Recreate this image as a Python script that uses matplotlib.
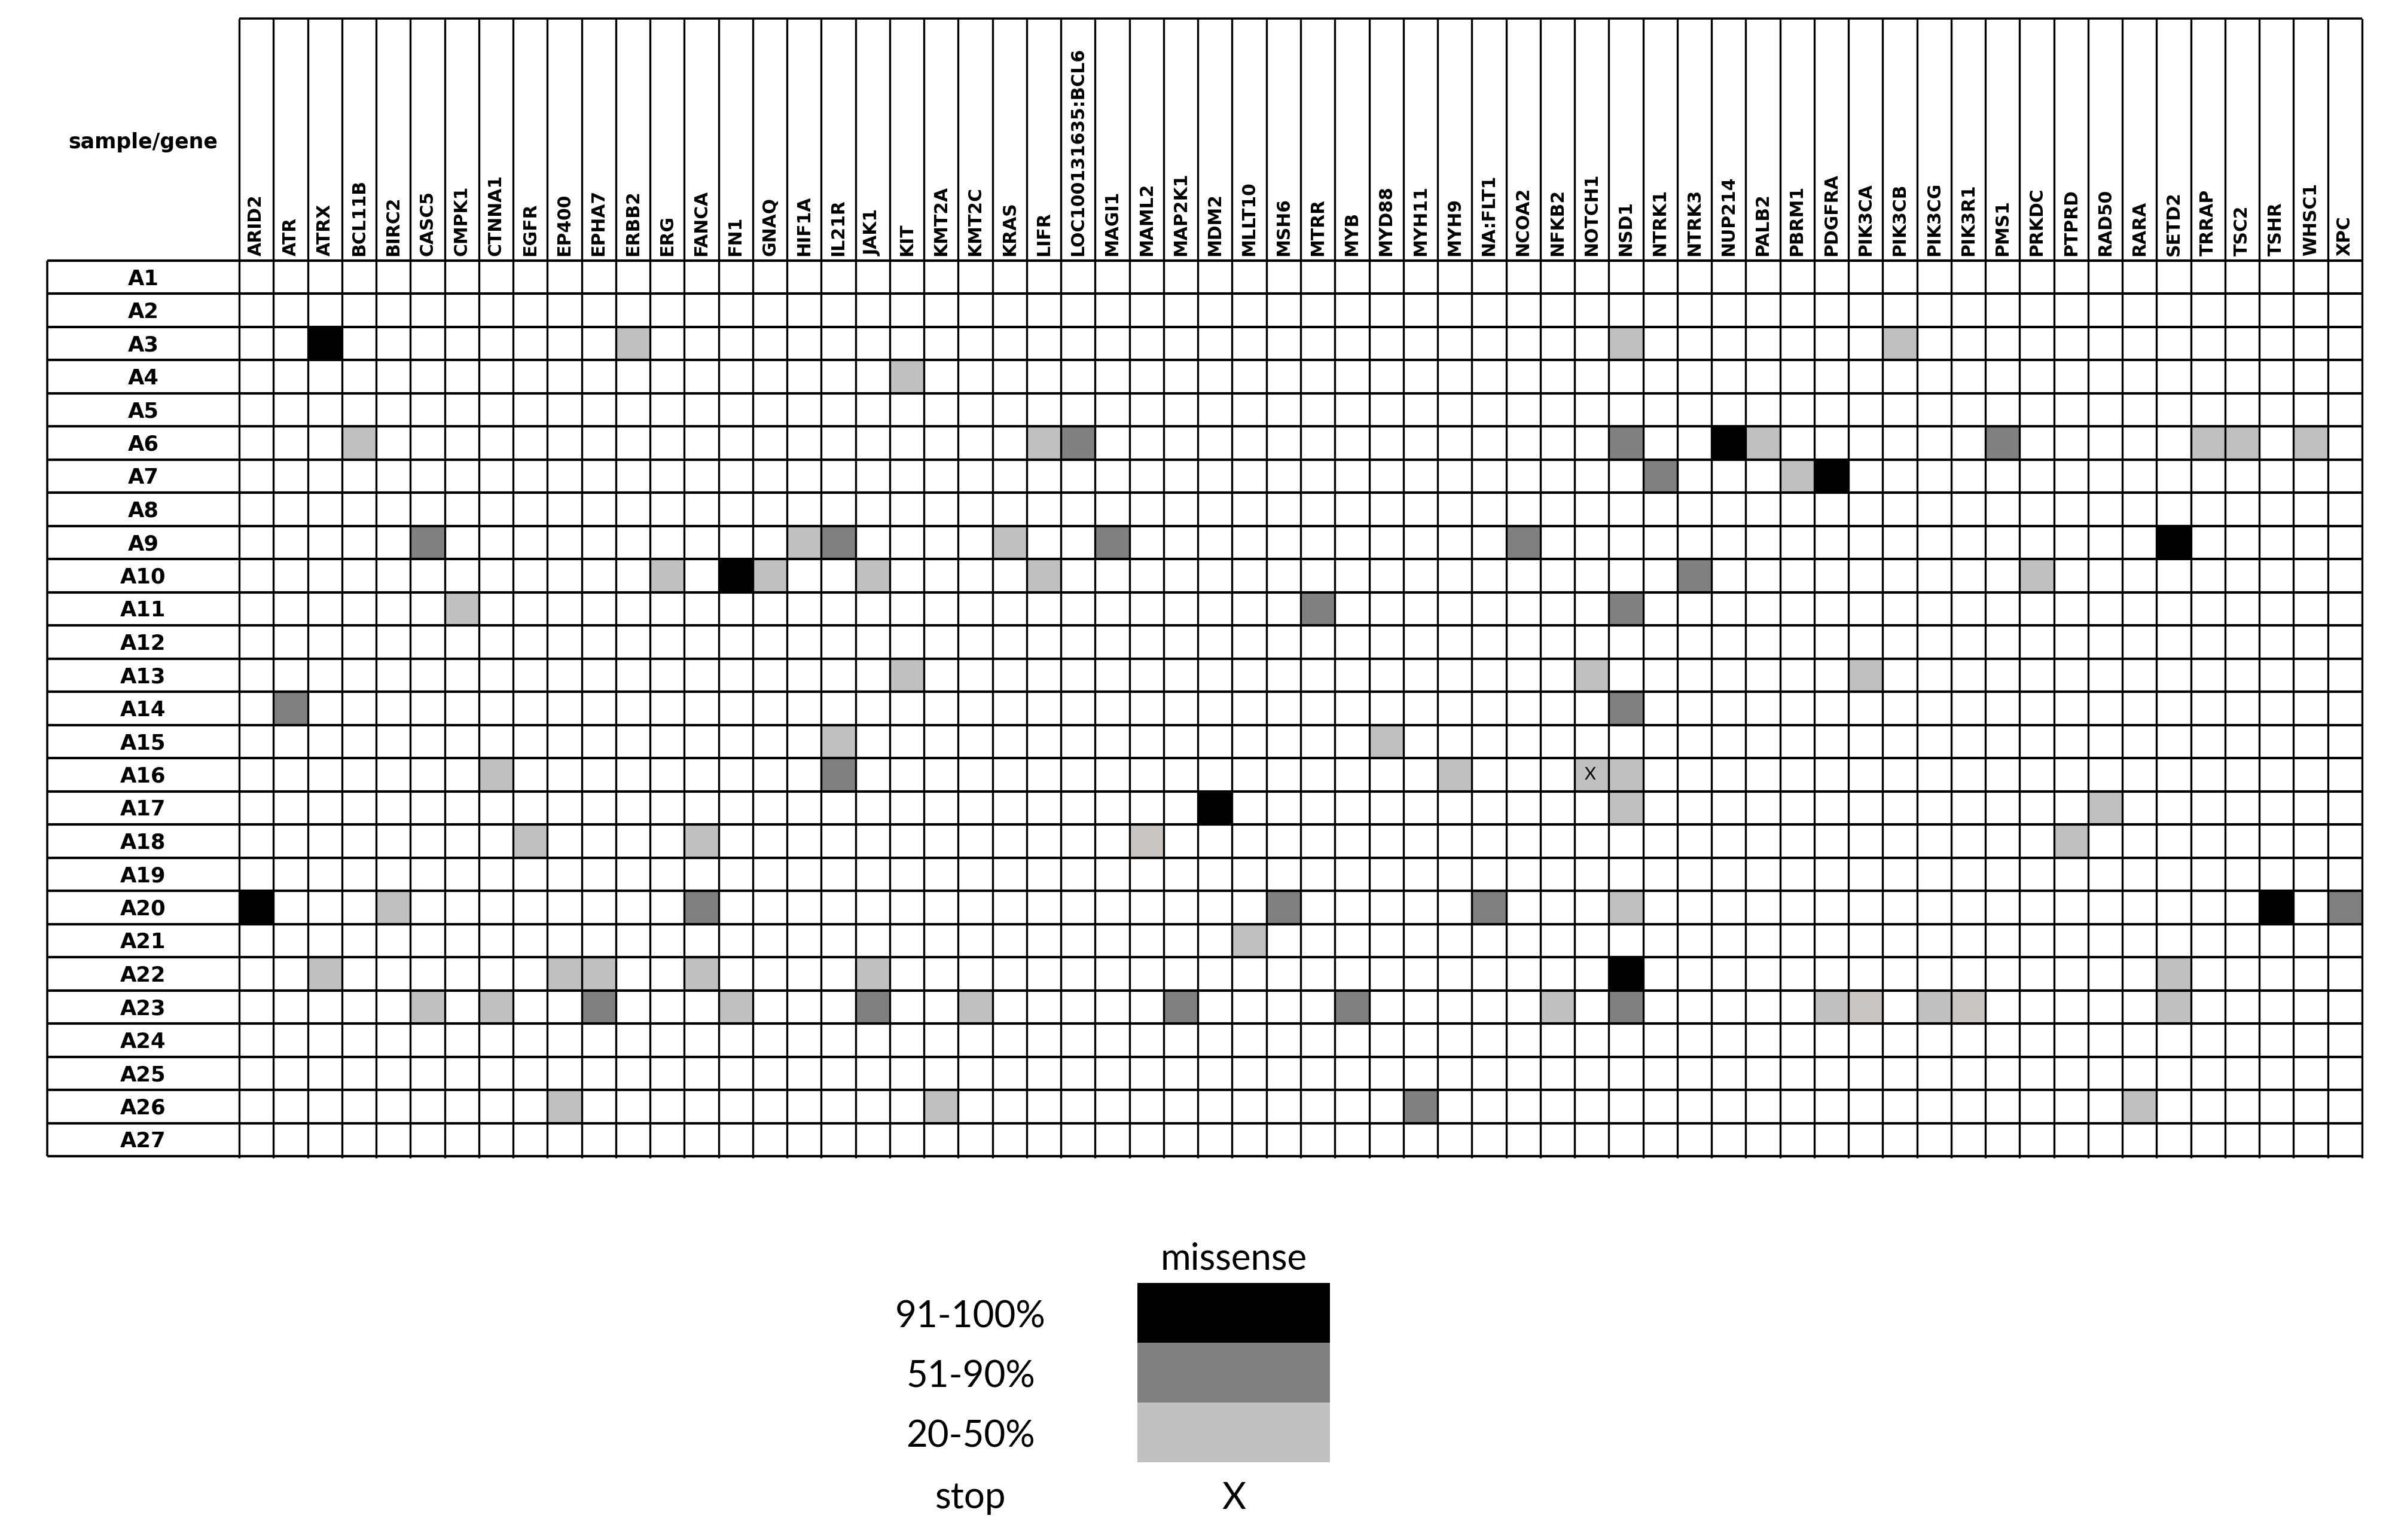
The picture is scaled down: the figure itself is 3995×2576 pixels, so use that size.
import numpy as np
import matplotlib.pyplot as plt
from matplotlib.colors import ListedColormap, BoundaryNorm

genes = ['ARID2', 'ATR', 'ATRX', 'BCL11B', 'BIRC2', 'CASC5', 'CMPK1', 'CTNNA1',
         'EGFR', 'EP400', 'EPHA7', 'ERBB2', 'ERG', 'FANCA', 'FN1', 'GNAQ', 'HIF1A',
         'IL21R', 'JAK1', 'KIT', 'KMT2A', 'KMT2C', 'KRAS', 'LIFR', 'LOC100131635:BCL6',
         'MAGI1', 'MAML2', 'MAP2K1', 'MDM2', 'MLLT10', 'MSH6', 'MTRR', 'MYB', 'MYD88',
         'MYH11', 'MYH9', 'NA:FLT1', 'NCOA2', 'NFKB2', 'NOTCH1', 'NSD1', 'NTRK1',
         'NTRK3', 'NUP214', 'PALB2', 'PBRM1', 'PDGFRA', 'PIK3CA', 'PIK3CB', 'PIK3CG',
         'PIK3R1', 'PMS1', 'PRKDC', 'PTPRD', 'RAD50', 'RARA', 'SETD2', 'TRRAP', 'TSC2',
         'TSHR', 'WHSC1', 'XPC']
samples = ['A%d' % i for i in range(1, 28)]

# missense calls by allele fraction band
vaf_91_100 = {
    'A3': ['ATRX'], 'A6': ['NUP214'], 'A7': ['PDGFRA'], 'A9': ['SETD2'],
    'A10': ['FN1'], 'A17': ['MDM2'], 'A20': ['ARID2', 'TSHR'], 'A22': ['NSD1'],
}
vaf_51_90 = {
    'A6': ['LOC100131635:BCL6', 'NSD1', 'PMS1'], 'A7': ['NTRK1'],
    'A9': ['CASC5', 'IL21R', 'MAGI1', 'NCOA2'], 'A10': ['NTRK3'],
    'A11': ['MTRR', 'NSD1'], 'A14': ['ATR', 'NSD1'], 'A16': ['IL21R'],
    'A20': ['FANCA', 'MSH6', 'NA:FLT1', 'XPC'],
    'A23': ['EPHA7', 'JAK1', 'MAP2K1', 'MYB', 'NSD1'], 'A26': ['MYH11'],
}
vaf_20_50 = {
    'A3': ['ERBB2', 'NSD1', 'PIK3CB'], 'A4': ['KIT'],
    'A6': ['BCL11B', 'LIFR', 'PALB2', 'TRRAP', 'TSC2', 'WHSC1'], 'A7': ['PBRM1'],
    'A9': ['HIF1A', 'KRAS'], 'A10': ['ERG', 'GNAQ', 'JAK1', 'LIFR', 'PRKDC'],
    'A11': ['CMPK1'], 'A13': ['KIT', 'NOTCH1', 'PIK3CA'], 'A15': ['IL21R', 'MYD88'],
    'A16': ['CTNNA1', 'MYH9', 'NOTCH1', 'NSD1'], 'A17': ['NSD1', 'RAD50'],
    'A18': ['EGFR', 'FANCA', 'PTPRD'], 'A20': ['BIRC2', 'NSD1'], 'A21': ['MLLT10'],
    'A22': ['ATRX', 'EP400', 'EPHA7', 'FANCA', 'JAK1', 'SETD2'],
    'A23': ['CASC5', 'CTNNA1', 'FN1', 'KMT2C', 'NFKB2', 'PDGFRA', 'PIK3CG', 'SETD2'],
    'A26': ['EP400', 'KMT2A', 'RARA'],
}
# same band, cells that are a slightly warmer grey in the original
vaf_20_50_warm = {'A18': ['MAML2'], 'A23': ['PIK3CA', 'PIK3R1']}
stop_calls = {'A16': ['NOTCH1']}

legend_labels = ['91-100%', '51-90%', '20-50%']

mat = np.zeros((len(samples), len(genes)))
for level, calls in [(1, vaf_20_50), (4, vaf_20_50_warm), (2, vaf_51_90), (3, vaf_91_100)]:
    for s, gl in calls.items():
        for g in gl:
            mat[samples.index(s), genes.index(g)] = level

colors = ['white', '#c0c0c0', '#808080', '#000000', '#cac5c0']
cmap = ListedColormap(colors)
norm = BoundaryNorm(np.arange(-0.5, len(colors)), cmap.N)

W, H = 3995, 2576
fig = plt.figure(figsize=(W / 100, H / 100), dpi=100)
ax = fig.add_axes([400 / W, 1 - 1934 / H, 3550 / W, 1498 / H])
ax.pcolormesh(np.arange(len(genes) + 1), np.arange(len(samples) + 1), mat,
              cmap=cmap, norm=norm)
ax.set_xlim(0, len(genes))
ax.set_ylim(len(samples), 0)
ax.axis('off')

head = 405 / 55.48   # header height in rows
lab = 321 / 57.26    # label column width in columns
ng, ns = len(genes), len(samples)

ax.vlines(np.arange(ng + 1), -head, ns + 0.05, color='black', lw=2.4, clip_on=False)
ax.vlines(-lab, 0, ns, color='black', lw=2.6, clip_on=False)
ax.hlines(np.arange(ns + 1), -lab, ng, color='black', lw=3.0, clip_on=False)
ax.hlines(-head, 0, ng, color='black', lw=2.6, clip_on=False)

for i, g in enumerate(genes):
    ax.text(i + 0.5, -0.15, g, rotation=90, ha='center', va='bottom',
            fontsize=21.5, fontweight='bold', family='DejaVu Sans', clip_on=False)
for j, s in enumerate(samples):
    ax.text(-lab / 2, j + 0.55, s, ha='center', va='center',
            fontsize=25.5, fontweight='bold', family='DejaVu Sans', clip_on=False)
ax.text(-lab / 2, -3.57, 'sample/gene', ha='center', va='center',
        fontsize=25, fontweight='bold', family='DejaVu Sans', clip_on=False)

for s, gl in stop_calls.items():
    for g in gl:
        ax.text(genes.index(g) + 0.45, samples.index(s) + 0.5, 'X', ha='center',
                va='center', fontsize=21, family='Lato')

# legend
leg = fig.add_axes([1902 / W, 1 - 2446 / H, 322 / W, 300 / H])
leg.barh(range(3), 1, height=1, left=0, color=[colors[3], colors[2], colors[1]])
leg.set_xlim(0, 1)
leg.set_ylim(2.5, -0.5)
leg.axis('off')
tr = leg.get_yaxis_transform()
for k, t in enumerate(legend_labels):
    leg.text(-0.866, k + 0.07, t, transform=tr, ha='center', va='center',
             fontsize=44.5, family='Lato', clip_on=False)
leg.text(-0.866, 3.1, 'stop', transform=tr, ha='center', va='center',
         fontsize=44.5, family='Lato', clip_on=False)
leg.text(0.5, 3.1, 'X', transform=tr, ha='center', va='center',
         fontsize=44.5, family='Lato', clip_on=False)
leg.text(0.5, -0.9, 'missense', transform=tr, ha='center', va='center',
         fontsize=44.5, family='Lato', clip_on=False)

fig.savefig('out.png', dpi=100)
